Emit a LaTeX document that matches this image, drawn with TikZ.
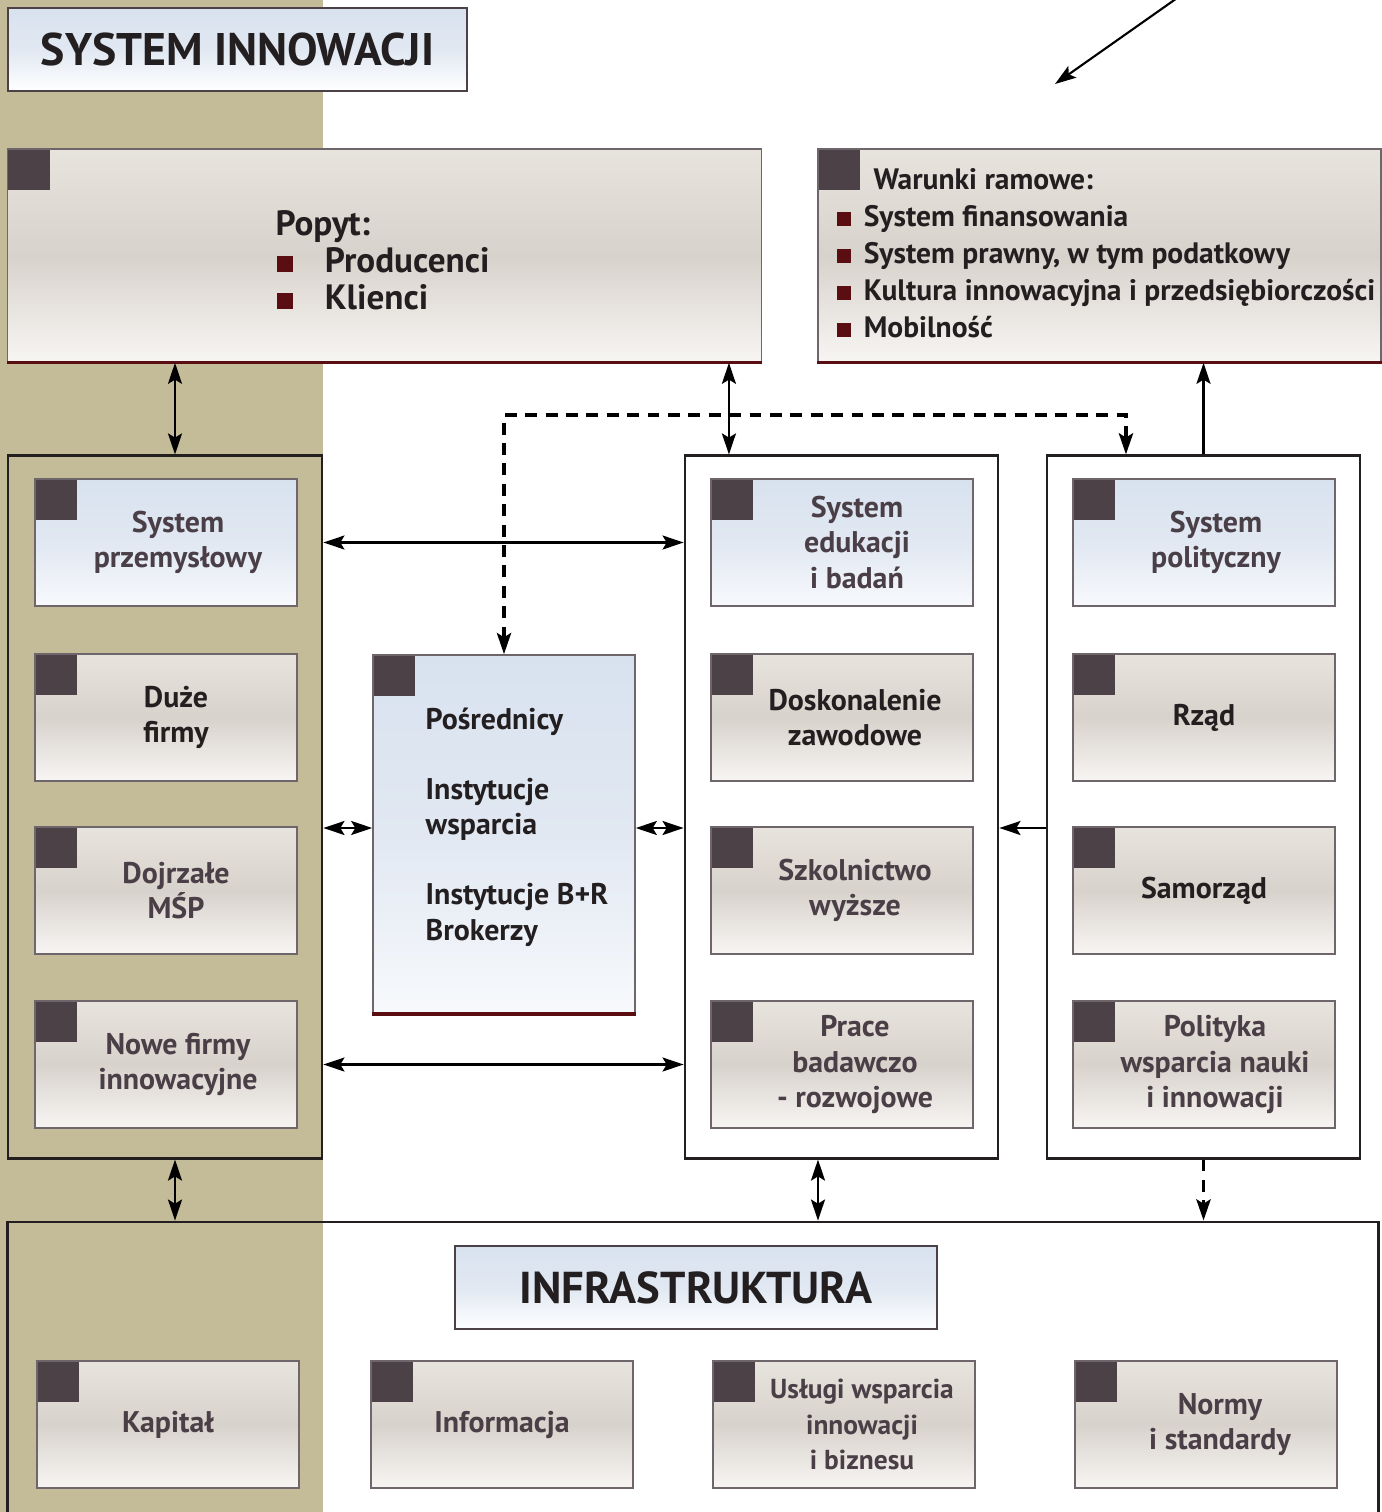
\documentclass[tikz,border=0pt]{standalone}
\usepackage{fontspec}
\setmainfont{PT Sans}
\usetikzlibrary{arrows.meta,positioning,calc}
\definecolor{tlo}{HTML}{C4BC99}
\definecolor{rog}{HTML}{4B4147}
\definecolor{ramka}{HTML}{6F666B}
\definecolor{bordo}{HTML}{5A0E12}
\definecolor{niebgora}{HTML}{D8E2EF}
\definecolor{niebsrod}{HTML}{E1E8F2}
\definecolor{niebdol}{HTML}{F7F9FC}
\definecolor{bezgora}{HTML}{E7E3DD}
\definecolor{bezsrod}{HTML}{D8D2CC}
\definecolor{bezdol}{HTML}{F7F5F3}
\definecolor{szary}{HTML}{4A3F46}
\definecolor{czarny}{HTML}{231F20}
\newcommand{\kw}[2]{\makebox[#1][l]{\textcolor{bordo}{\rule{#2}{#2}}}}
\tikzset{
    box/.style={draw=ramka, line width=0.4pt, inner xsep=0pt, inner ysep=2pt, minimum width=2.62cm, minimum height=1.27cm,
        text width=2.62cm, align=flush center, text=szary, font=\bfseries\fontsize{8.5}{10}\selectfont,
        path picture={\fill[rog] (path picture bounding box.north west) rectangle ++(0.42cm,-0.41cm);}},
    bluebox/.style={box, top color=niebgora, bottom color=niebdol, middle color=niebsrod},
    beigebox/.style={box, top color=bezgora, bottom color=bezdol, middle color=bezsrod},
    nudge/.style={execute at begin node={\advance\leftskip by #1}},
    title/.style={draw=rog, line width=0.7pt, top color=niebgora, bottom color=white, middle color=niebsrod,
        font=\bfseries\fontsize{13}{15}\selectfont, text=czarny, minimum height=0.83cm, inner sep=0},
    group/.style={draw=czarny, line width=0.75pt, minimum width=3.14cm, minimum height=7.02cm, inner sep=0},
    link/.style={line width=0.6pt, {Stealth[length=6pt,width=4pt,inset=1.2pt]}-{Stealth[length=6pt,width=4pt,inset=1.2pt]}},
    onearrow/.style={line width=0.6pt, -{Stealth[length=6pt,width=4pt,inset=1.2pt]}},
    dashlink/.style={link, line width=1.1pt, dash pattern=on 3.4pt off 2.4pt}
}
\begin{document}
\begin{tikzpicture}[x=0.01cm, y=-0.01cm]
    \useasboundingbox (0,0) rectangle (1382,1512);
    \clip (0,0) rectangle (1382,1512);
    \fill[tlo] (0,0) rectangle (323,1512);

    % naglowek
    \node[title, minimum width=4.59cm] (tytul) at (237.5,49.5) {SYSTEM INNOWACJI};

    % popyt i warunki ramowe
    \node[beigebox, minimum width=7.53cm, minimum height=2.13cm] (popyt) at (384.5,255.5) {};
    \draw[bordo, line width=0.8pt] (popyt.south west) -- (popyt.south east);
    \node[anchor=base west, align=left, inner sep=0, text=czarny, font=\bfseries\fontsize{10}{10.5}\selectfont]
        (popyt-txt) at (275,309) {Popyt:\\\hspace*{0.5pt}\kw{13.5pt}{4.5pt}Producenci\\\hspace*{0.5pt}\kw{13.5pt}{4.5pt}Klienci};
    \node[beigebox, minimum width=5.63cm, minimum height=2.13cm] (warunki) at (1099.5,255.5) {};
    \draw[bordo, line width=0.8pt] (warunki.south west) -- (warunki.south east);
    \node[anchor=base west, align=left, inner sep=0, text=czarny, font=\bfseries\fontsize{8.4}{10.5}\selectfont]
        (warunki-txt) at (836,337) {\hspace*{10.5pt}Warunki ramowe:\\
        \kw{7.7pt}{4pt}System finansowania\\
        \kw{7.7pt}{4pt}System prawny, w tym podatkowy\\
        \kw{7.7pt}{4pt}Kultura innowacyjna i przedsiębiorczości\\
        \kw{7.7pt}{4pt}Mobilność};

    % trzy kolumny
    \node[group] (lewa) at (165,807) {};
    \node[group, minimum width=3.13cm] (srodek) at (841.5,807) {};
    \node[group, minimum width=3.13cm] (prawa) at (1203.5,807) {};

    \node[bluebox, nudge=0.24cm] (sysprz) at (166,542.5) {System\\przemysłowy};
    \node[beigebox, text=czarny, nudge=0.2cm] (duze) at (166,717.5) {Duże\\firmy};
    \node[beigebox, nudge=0.2cm] (msp) at (166,890.5) {Dojrzałe\\MŚP};
    \node[beigebox, nudge=0.24cm] (nowe) at (166,1064.5) {Nowe firmy\\innowacyjne};

    \node[bluebox, nudge=0.3cm] (edu) at (842,542.5) {System\\edukacji\\i badań};
    \node[beigebox, text=czarny, nudge=0.26cm] (dosk) at (842,717.5) {Doskonalenie\\zawodowe};
    \node[beigebox, nudge=0.26cm] (szk) at (842,890.5) {Szkolnictwo\\wyższe};
    \node[beigebox, nudge=0.26cm] (prace) at (842,1064.5) {Prace\\badawczo\\- rozwojowe};

    \node[bluebox, nudge=0.24cm] (pol) at (1204,542.5) {System\\polityczny};
    \node[beigebox, text=czarny] (rzad) at (1204,717.5) {Rząd};
    \node[beigebox, text=czarny] (samo) at (1204,890.5) {Samorząd};
    \node[beigebox, nudge=0.22cm] (polit) at (1204,1064.5) {Polityka\\wsparcia nauki\\i innowacji};

    % posrednicy
    \node[bluebox, minimum height=3.58cm] (posr) at (504,834) {};
    \draw[bordo, line width=1pt] (posr.south west) -- (posr.south east);
    \node[anchor=base west, align=left, inner sep=0, text=czarny, font=\bfseries\fontsize{8.5}{10}\selectfont]
        (posr-txt) at (425,940) {Pośrednicy\\[10pt]Instytucje\\wsparcia\\[10pt]Instytucje B+R\\Brokerzy};

    % infrastruktura
    \node[draw=czarny, line width=0.75pt, minimum width=13.70cm, minimum height=3.2cm, inner sep=0] (infra) at (693,1382) {};
    \node[title, minimum width=4.82cm, font=\bfseries\fontsize{12.7}{15}\selectfont] (infra-tyt) at (696,1287.5) {INFRASTRUKTURA};
    \node[beigebox] (kap) at (168,1424.5) {Kapitał};
    \node[beigebox] (inf) at (502,1424.5) {Informacja};
    \node[beigebox, nudge=0.36cm, font=\bfseries\fontsize{7.8}{10}\selectfont] (uslugi) at (844,1424.5) {Usługi wsparcia\\innowacji\\i biznesu};
    \node[beigebox, nudge=0.28cm] (normy) at (1206,1424.5) {Normy\\i standardy};

    % polaczenia
    \coordinate (strz-a) at (1180,-4);
    \coordinate (strz-b) at (1055,84);
    \draw[onearrow] (strz-a) -- (strz-b);
    \draw[link] ([xshift=1mm]lewa.north) -- ([xshift=1mm]lewa.north |- popyt.south);
    \coordinate (sr-g) at ([xshift=-1.125cm]srodek.north);
    \draw[link] (sr-g |- popyt.south) -- (sr-g);
    \draw[onearrow] (prawa.north) -- (prawa.north |- warunki.south);
    \coordinate (pr-g) at ([xshift=-0.775cm]prawa.north);
    \draw[dashlink] (posr.north) -- (posr.north |- 0,415) -- (pr-g |- 0,415) -- (pr-g);
    \draw[link] (lewa.east |- sysprz) -- (srodek.west |- sysprz);
    \draw[link] (lewa.east |- nowe) -- (srodek.west |- nowe);
    \draw[link] (lewa.east |- 0,828) -- (posr.west |- 0,828);
    \draw[link] (posr.east |- 0,828) -- (srodek.west |- 0,828);
    \draw[onearrow] (prawa.west |- 0,828) -- (srodek.east |- 0,828);
    \draw[link] ([xshift=1mm]lewa.south) -- ([xshift=1mm]lewa.south |- infra.north);
    \coordinate (sr-d) at ([xshift=-0.235cm]srodek.south);
    \draw[link] (sr-d) -- (sr-d |- infra.north);
    \draw[onearrow, line width=1.1pt, dash pattern=on 3.4pt off 2.4pt] (prawa.south) -- (prawa.south |- infra.north);
\end{tikzpicture}
\end{document}
